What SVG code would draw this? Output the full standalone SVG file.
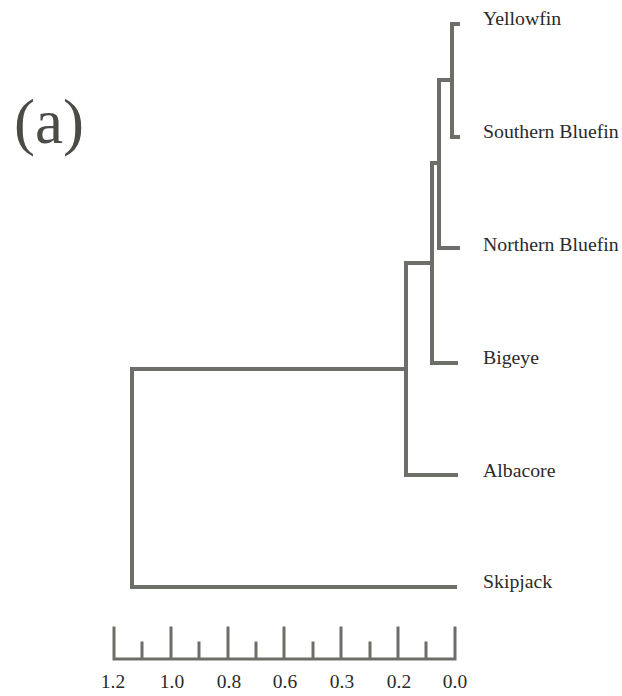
<svg xmlns="http://www.w3.org/2000/svg" width="622" height="696" viewBox="0 0 622 696">
  <style>
    .branch { fill: none; stroke: #6c6e68; stroke-width: 4; stroke-linejoin: miter; stroke-linecap: square; }
    .axis { fill: none; stroke: #6c6e68; stroke-width: 3; stroke-linecap: square; }
    .taxon { font-family: "Liberation Serif", "Times New Roman", serif; font-size: 19.8px; fill: #2a2a2a; }
    .tick { font-family: "Liberation Serif", "Times New Roman", serif; font-size: 19.5px; fill: #2a2a2a; text-anchor: middle; }
    .panel { font-family: "Liberation Serif", "Times New Roman", serif; font-size: 63px; fill: #4a4c46; }
  </style>
  <rect width="622" height="696" fill="#ffffff"/>

  <text class="panel" x="14" y="143">(a)</text>

  <!-- dendrogram branches -->
  <g id="connectors">
    <path class="branch" d="M458,24 H452 V137 H458"/>
    <path class="branch" d="M452,80 H439 V248 H458"/>
    <path class="branch" d="M439,163 H432 V363 H456"/>
    <path class="branch" d="M432,263 H406 V475 H456"/>
    <path class="branch" d="M406,369 H132 V587 H455"/>
  </g>

  <!-- leaf labels -->
  <g id="yellowfin"><text class="taxon" x="483" y="25">Yellowfin</text></g>
  <g id="southern-bluefin"><text class="taxon" x="483" y="138">Southern Bluefin</text></g>
  <g id="northern-bluefin"><text class="taxon" x="483" y="251">Northern Bluefin</text></g>
  <g id="bigeye"><text class="taxon" x="483" y="364">Bigeye</text></g>
  <g id="albacore"><text class="taxon" x="483" y="477">Albacore</text></g>
  <g id="skipjack"><text class="taxon" x="483" y="588">Skipjack</text></g>

  <!-- distance scale -->
  <g id="scale">
    <path class="axis" d="M114,659 H455
      M114,628 V659 M171,628 V659 M228,628 V659 M284,628 V659 M341,628 V659 M398,628 V659 M455,628 V659
      M142,643 V659 M199,643 V659 M256,643 V659 M313,643 V659 M370,643 V659 M426,643 V659"/>
    <text class="tick" x="113" y="688">1.2</text>
    <text class="tick" x="172" y="688">1.0</text>
    <text class="tick" x="229" y="688">0.8</text>
    <text class="tick" x="285" y="688">0.6</text>
    <text class="tick" x="342" y="688">0.3</text>
    <text class="tick" x="399" y="688">0.2</text>
    <text class="tick" x="455" y="688">0.0</text>
  </g>
</svg>
